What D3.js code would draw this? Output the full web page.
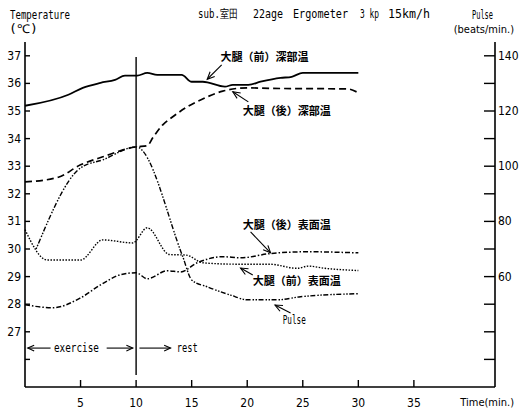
<!DOCTYPE html>
<html>
<head>
<meta charset="utf-8">
<script src="https://cdn.jsdelivr.net/npm/d3@7"></script>
<style>
  body { margin: 0; background: #fff; }
  svg text { fill: #000; }
</style>
</head>
<body>
<div id="chart_div"></div>
<script>
// time (min.) and readings for each curve
var frontDeepTime = [0, 3.9, 5.2, 6.8, 8.1, 9, 10.1, 11, 11.9, 14.1, 15, 16, 18, 18.7, 20.1, 21.2, 23, 24, 25, 30];
var frontDeepTemp = [35.19, 35.59, 35.84, 36.02, 36.13, 36.28, 36.28, 36.38, 36.31, 36.31, 36.06, 36.06, 35.88, 35.95, 35.95, 36.06, 36.2, 36.24, 36.38, 36.38];

var backDeepTime = [0, 3, 5, 7, 10, 11, 11.5, 12.4, 13.3, 14.6, 15.8, 17.8, 20, 22, 29, 30];
var backDeepTemp = [32.43, 32.6, 33.05, 33.34, 33.7, 33.74, 34.03, 34.5, 34.79, 35.15, 35.4, 35.72, 35.84, 35.82, 35.8, 35.66];

var pulseTime = [1, 5, 7, 10, 14.2, 15, 16.4, 18.5, 20, 22.7, 24.8, 30];
var pulseRate = [70, 99.4, 102.3, 107, 67.2, 58.8, 56.3, 53.3, 51.6, 51.6, 52.7, 53.8];

var frontSurfTime = [0, 2, 5, 7, 9.7, 11, 13, 14.5, 16, 19, 22, 24.5, 25.5, 27, 30];
var frontSurfTemp = [30.7, 29.6, 29.6, 30.33, 30.22, 30.77, 29.8, 29.78, 29.5, 29.45, 29.45, 29.3, 29.38, 29.3, 29.22];

var backSurfTime = [0, 2.5, 5, 6.8, 8.6, 10, 11, 12.8, 14, 15.5, 17.8, 19.4, 22, 25.4, 30];
var backSurfTemp = [27.98, 27.87, 28.23, 28.7, 29.07, 29.14, 28.92, 29.21, 29.17, 29.5, 29.72, 29.68, 29.83, 29.9, 29.86];

var xTicks = [5, 10, 15, 20, 25, 30, 35];
var tempTicks = [37, 36, 35, 34, 33, 32, 31, 30, 29, 28, 27, 26];
var tempLabels = [37, 36, 35, 34, 33, 32, 31, 30, 29, 28, 27];
var pulseTicks = [140, 130, 120, 110, 100, 90, 80, 70, 60, 50, 40, 30];
var pulseLabels = [140, 120, 100, 80, 60];

var width = 520, height = 410;
var mono = "'DejaVu Sans Mono', monospace";
var narrow = "'DejaVu Sans Condensed', 'Liberation Sans Narrow', sans-serif";
var jp = "'Noto Sans CJK JP', sans-serif";

var svg = d3.select("#chart_div")
  .append("svg")
  .attr("width", width)
  .attr("height", height);

// scales
var x = d3.scaleLinear().domain([0, 42.3]).range([25, 495]);
var y = d3.scaleLinear().domain([25, 37.5]).range([387, 42]);
var yP = d3.scaleLinear().domain([20, 145]).range([387, 42]);

// axes
svg.append("line").attr("x1", x(0)).attr("x2", x(0)).attr("y1", 42).attr("y2", 387)
  .attr("stroke", "black").attr("stroke-width", 1.6);
svg.append("line").attr("x1", 495).attr("x2", 495).attr("y1", 42).attr("y2", 387)
  .attr("stroke", "black").attr("stroke-width", 1.6);
svg.append("line").attr("x1", x(0)).attr("x2", 495).attr("y1", 387).attr("y2", 387)
  .attr("stroke", "black").attr("stroke-width", 1.6);

svg.selectAll("tTick").data(tempTicks).enter().append("line")
  .attr("x1", x(0)).attr("x2", x(0) + 5)
  .attr("y1", function(d) { return y(d); }).attr("y2", function(d) { return y(d); })
  .attr("stroke", "black").attr("stroke-width", 1.4);
svg.selectAll("tLab").data(tempLabels).enter().append("text")
  .attr("x", 21).attr("y", function(d) { return y(d) + 4; })
  .attr("text-anchor", "end")
  .style("font-family", narrow).style("font-size", "12px")
  .text(function(d) { return d; });

svg.selectAll("pTick").data(pulseTicks).enter().append("line")
  .attr("x1", 484).attr("x2", 495)
  .attr("y1", function(d) { return yP(d); }).attr("y2", function(d) { return yP(d); })
  .attr("stroke", "black").attr("stroke-width", 1.4);
svg.selectAll("pLab").data(pulseLabels).enter().append("text")
  .attr("x", 498).attr("y", function(d) { return yP(d) + 4; })
  .style("font-family", narrow).style("font-size", "12px")
  .text(function(d) { return d; });

svg.selectAll("xTick").data(xTicks).enter().append("line")
  .attr("x1", function(d) { return x(d); }).attr("x2", function(d) { return x(d); })
  .attr("y1", 380).attr("y2", 387)
  .attr("stroke", "black").attr("stroke-width", 1.4);
svg.selectAll("xLab").data(xTicks).enter().append("text")
  .attr("x", function(d) { return x(d); }).attr("y", 407)
  .attr("text-anchor", "middle")
  .style("font-family", narrow).style("font-size", "12px")
  .text(function(d) { return d; });

// monospace labels squeezed to the measured width
function label(px, py, s, w) {
  svg.append("text").attr("x", px).attr("y", py)
    .attr("textLength", w).attr("lengthAdjust", "spacingAndGlyphs")
    .style("font-family", mono).style("font-size", "12px")
    .text(s);
}
// labels near the right edge: narrow font at natural width
function edgeLabel(px, py, s) {
  svg.append("text").attr("x", px).attr("y", py)
    .attr("text-anchor", "end")
    .style("font-family", narrow).style("font-size", "11px")
    .text(s);
}
label(10, 19, "Temperature", 60);
label(9, 33, "(\u2103)", 29);
label(198, 18, "sub.室田", 40);
label(253, 18, "22age", 30);
label(293, 18, "Ergometer", 55);
label(360, 18, "3 kp", 19);
label(388, 18, "15km/h", 42);
label(472, 19, "Pulse", 21);
edgeLabel(514, 33, "(beats/min.)");
edgeLabel(514, 406, "Time(min.)");

// exercise / rest split
svg.append("line").attr("x1", x(10)).attr("x2", x(10)).attr("y1", 57).attr("y2", 375)
  .attr("stroke", "black").attr("stroke-width", 1.4);

// curves
var tLine = d3.line().curve(d3.curveMonotoneX)
  .x(function(d) { return x(d[0]); }).y(function(d) { return y(d[1]); });
var pLine = d3.line().curve(d3.curveMonotoneX)
  .x(function(d) { return x(d[0]); }).y(function(d) { return yP(d[1]); });

function addCurve(times, vals, gen, dash, w) {
  svg.append("path")
    .datum(d3.zip(times, vals))
    .attr("d", gen)
    .attr("fill", "none")
    .attr("stroke", "black")
    .attr("stroke-width", w)
    .attr("stroke-dasharray", dash);
}
addCurve(frontDeepTime, frontDeepTemp, tLine, null, 1.8);
addCurve(backDeepTime, backDeepTemp, tLine, "7 4", 1.7);
addCurve(pulseTime, pulseRate, pLine, "1.5 1.5 1.5 1.5 5 2", 1.4);
addCurve(frontSurfTime, frontSurfTemp, tLine, "1.5 1.5", 1.4);
addCurve(backSurfTime, backSurfTemp, tLine, "5 2 1.5 2", 1.5);

// arrow: open chevron at (x2, y2)
function arrow(x1, y1, x2, y2, head) {
  var a = Math.atan2(y2 - y1, x2 - x1), s = 0.42;
  svg.append("line").attr("x1", x1).attr("y1", y1).attr("x2", x2).attr("y2", y2)
    .attr("stroke", "black").attr("stroke-width", 1.1);
  svg.append("path")
    .attr("d", "M" + (x2 - head * Math.cos(a - s)) + "," + (y2 - head * Math.sin(a - s)) +
      "L" + x2 + "," + y2 +
      "L" + (x2 - head * Math.cos(a + s)) + "," + (y2 - head * Math.sin(a + s)))
    .attr("fill", "none").attr("stroke", "black").attr("stroke-width", 1.1);
}

function jpLabel(px, py, s) {
  svg.append("text").attr("x", px).attr("y", py)
    .attr("textLength", 88).attr("lengthAdjust", "spacingAndGlyphs")
    .style("font-family", jp).style("font-size", "11px").style("font-weight", "bold")
    .text(s);
}
jpLabel(x(17.6), y(36.97) + 4, "大腿（前）深部温");
arrow(x(17.7), y(36.67), x(16.4), y(36.15), 8);
jpLabel(x(19.6), y(35.0) + 4, "大腿（後）深部温");
arrow(x(20.1), y(35.33), x(18.7), y(35.7), 8);
jpLabel(x(19.6), y(30.86) + 4, "大腿（後）表面温");
arrow(x(20.3), y(30.62), x(22.1), y(29.86), 8);
jpLabel(x(20.5), y(28.85) + 4, "大腿（前）表面温");
arrow(x(20.5), y(29.06), x(19.4), y(29.31), 8);
label(x(23.2), yP(44.1) + 4, "Pulse", 23);
arrow(x(23.9), yP(46.8), x(22.5), yP(49.7), 8);

// exercise / rest arrows
arrow(x(2.3), y(26.41), x(0.25), y(26.41), 7);
label(x(2.6), y(26.41) + 4, "exercise", 45);
arrow(x(7.35), y(26.41), x(9.7), y(26.41), 7);
arrow(x(10.3), y(26.41), x(13.1), y(26.41), 7);
label(x(13.65), y(26.41) + 4, "rest", 21);
</script>
</body>
</html>
